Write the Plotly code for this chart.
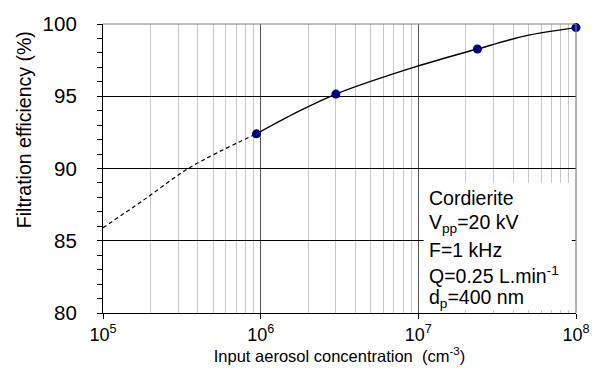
import numpy as np
import plotly.graph_objects as go

# Data
meas_x = [9.4e5, 3.0e6, 2.37e7, 1.0e8]
meas_y = [92.4, 95.15, 98.27, 99.75]
fit_x = [9.4e5, 1.7e6, 3.0e6, 1.0e7, 2.37e7, 4.85e7, 1.0e8]
fit_y = [92.4, 93.9, 95.15, 97.1, 98.27, 99.2, 99.75]
extrap_x = [1.0e5, 1.8e5, 3.6e5, 9.4e5]
extrap_y = [85.9, 87.8, 90.1, 92.4]
x_tickvals = [1e5, 1e6, 1e7, 1e8]
x_ticktext = ["10<sup>5</sup>", "10<sup>6</sup>", "10<sup>7</sup>", "10<sup>8</sup>"]
x_minorvals = [m * 10 ** e for e in (5, 6, 7) for m in range(2, 10)]
y_tickvals = [80, 85, 90, 95, 100]
info_lines = ["Cordierite", "V<sub>pp</sub>=20 kV", "F=1 kHz",
              "Q=0.25 L.min<sup>-1</sup>", "d<sub>p</sub>=400 nm"]
x_title = "Input aerosol concentration  (cm<sup>-3</sup>)"
y_title = "Filtration efficiency (%)"

FONT = "Liberation Sans, Arial, sans-serif"
W, H = 602, 374
L, R, T, B = 103.3, 19.7, 20, 58
pw, ph = W - L - R, H - T - B

def px2paper_x(px):
    return (px - L) / pw

def px2paper_y(py):
    return (H - B - py) / ph

fig = go.Figure()
fig.add_trace(go.Scatter(x=extrap_x, y=extrap_y, mode="lines",
                         line=dict(color="black", width=1.2, dash="4px,3px", shape="spline"),
                         hoverinfo="skip", showlegend=False))
fig.add_trace(go.Scatter(x=fit_x, y=fit_y, mode="lines",
                         line=dict(color="black", width=1.4, shape="spline", smoothing=0.8),
                         hoverinfo="skip", showlegend=False))
fig.add_trace(go.Scatter(x=meas_x, y=meas_y, mode="markers",
                         marker=dict(color="#000080", size=9),
                         cliponaxis=False, showlegend=False))

shapes = [
    # white info box
    dict(type="rect", xref="paper", yref="paper",
         x0=px2paper_x(428), x1=px2paper_x(578), y0=px2paper_y(313), y1=px2paper_y(182.5),
         fillcolor="white", line=dict(width=0), layer="above"),
    # top and right frame
    dict(type="line", xref="paper", yref="paper", x0=0, x1=1, y0=1, y1=1,
         line=dict(color="#808080", width=1.2), layer="above"),
    dict(type="line", xref="paper", yref="paper", x0=1, x1=1, y0=0, y1=1,
         line=dict(color="#808080", width=1.2), layer="above"),
]

annotations = []
baselines = [204, 230, 257, 283, 307]
for txt, bl in zip(info_lines, baselines):
    annotations.append(dict(text=txt, xref="paper", yref="paper",
                            x=px2paper_x(431), y=px2paper_y(bl - 6),
                            xanchor="left", yanchor="middle", showarrow=False,
                            font=dict(family=FONT, size=19.5, color="black")))
annotations.append(dict(text=y_title, xref="paper", yref="paper",
                        x=px2paper_x(24), y=px2paper_y(128), textangle=-90,
                        xanchor="center", yanchor="middle", showarrow=False,
                        font=dict(family=FONT, size=19.5, color="black")))

fig.update_layout(
    width=W, height=H,
    margin=dict(l=L, r=R, t=T, b=B),
    paper_bgcolor="white", plot_bgcolor="white",
    font=dict(family=FONT, color="black"),
    shapes=shapes, annotations=annotations,
    xaxis=dict(type="log", range=[5, 8],
               tickvals=x_tickvals, ticktext=x_ticktext,
               tickfont=dict(size=18), ticks="outside", ticklen=5, tickcolor="black",
               showgrid=True, gridcolor="#555555", gridwidth=1,
               minor=dict(tickmode="array", tickvals=x_minorvals,
                          showgrid=True, gridcolor="#c8c8c8", gridwidth=1, ticks=""),
               showline=True, linecolor="black", linewidth=1.2,
               zeroline=False,
               title=dict(text=x_title, font=dict(size=16.5), standoff=6)),
    yaxis=dict(range=[80, 100], tickvals=y_tickvals,
               tickfont=dict(size=20.5), ticks="outside", ticklen=5, tickcolor="black",
               ticklabelstandoff=16,
               showgrid=True, gridcolor="black", gridwidth=1,
               minor=dict(dtick=1, ticks="outside", ticklen=5, tickcolor="black", showgrid=False),
               showline=True, linecolor="black", linewidth=1.2,
               zeroline=False),
)

fig.write_html("out.html")
